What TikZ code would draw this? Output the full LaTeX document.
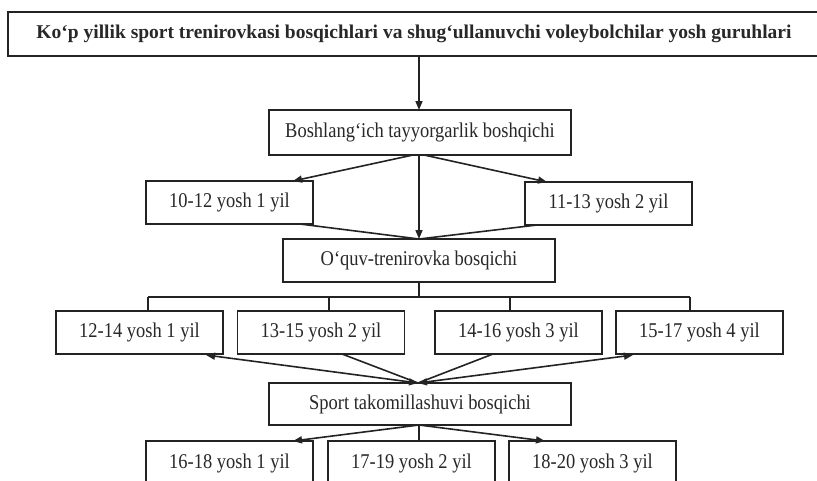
\documentclass[tikz,border=0pt]{standalone}
\usepackage{fontspec}
\setmainfont{Liberation Serif}[FakeStretch=0.88]
\newfontfamily\titlefont{Liberation Serif}[FakeStretch=1.0]
\usetikzlibrary{arrows.meta,calc}
\definecolor{ink}{RGB}{35,35,35}
\definecolor{txt}{RGB}{40,40,40}
\begin{document}
\begin{tikzpicture}[x=1pt,y=-1pt,
  box/.style={draw=ink,line width=1.7pt,inner sep=0pt,fill=white,text=txt,
    font=\fontsize{21}{24}\selectfont},
  sbox/.style={box,minimum width=167pt,minimum height=43pt},
  wbox/.style={box,minimum height=43pt},
  conn/.style={draw=ink,line width=1.6pt},
  arr/.style={conn,-{Triangle[length=9pt,width=7pt]}},
  darr/.style={conn,{Triangle[length=9pt,width=7pt]}-{Triangle[length=9pt,width=7pt]}}
]
\useasboundingbox (0,0) rectangle (817,480);
% nodes
\node[box,minimum width=812pt,minimum height=44pt,font=\titlefont\bfseries\fontsize{19.5}{22}\selectfont] (top) at (414,34)
  {Ko‘p yillik sport trenirovkasi bosqichlari va shug‘ullanuvchi voleybolchilar yosh guruhlari};
\node[wbox,minimum width=302pt,minimum height=45pt] (b0) at (420,132.5) {Boshlang‘ich tayyorgarlik boshqichi};
\node[sbox] (a1) at (229.5,202.5) {10-12 yosh 1 yil};
\node[sbox] (a2) at (608.5,203.5) {11-13 yosh 2 yil};
\node[wbox,minimum width=272pt] (o) at (419,260.5) {O‘quv-trenirovka bosqichi};
\node[sbox] (c1) at (139.5,332.5) {12-14 yosh 1 yil};
\node[sbox] (c2) at (321,332.5) {13-15 yosh 2 yil};
\node[sbox] (c3) at (518.5,332.5) {14-16 yosh 3 yil};
\node[sbox] (c4) at (699.5,332.5) {15-17 yosh 4 yil};
\node[wbox,minimum width=302pt,minimum height=42pt] (s) at (420,404) {Sport takomillashuvi bosqichi};
\node[sbox,minimum height=44pt] (d1) at (229.5,463) {16-18 yosh 1 yil};
\node[sbox,minimum height=44pt] (d2) at (411.5,463) {17-19 yosh 2 yil};
\node[sbox,minimum height=44pt] (d3) at (592.5,463) {18-20 yosh 3 yil};
% connectors
\coordinate (t0) at (419,56);
\coordinate (b0n) at (419,110);
\draw[arr] (t0) -- (b0n);
\coordinate (b0s) at (419,155);
\coordinate (b0l) at (413,155);
\coordinate (b0r) at (424,155);
\coordinate (a1t) at (293,181);
\coordinate (a2t) at (547,182);
\coordinate (on) at (419,239);
\draw[arr] (b0l) -- (a1t);
\draw[arr] (b0r) -- (a2t);
\coordinate (a1b) at (300,224);
\coordinate (a2b) at (537,225);
\draw[conn] (a1b) -- (on);
\draw[conn] (a2b) -- (on);
\draw[arr] (b0s) -- (on);
% bracket
\coordinate (os) at (419,282);
\coordinate (k0) at (419,297);
\coordinate (k1) at (148,297);
\coordinate (k2) at (329,297);
\coordinate (k3) at (510,297);
\coordinate (k4) at (690,297);
\draw[conn] (os) -- (k0);
\draw[conn] (k1) -- (k4);
\draw[conn] (k1) -- (k1 |- c1.north);
\draw[conn] (k2) -- (k2 |- c2.north);
\draw[conn] (k3) -- (k3 |- c3.north);
\draw[conn] (k4) -- (k4 |- c4.north);
% to sport
\coordinate (sn) at (418,383);
\coordinate (c1b) at (206,355);
\coordinate (c2b) at (342,354);
\coordinate (c3b) at (493,354);
\coordinate (c4b) at (633,355);
\draw[conn] (c2b) -- (sn);
\draw[conn] (c3b) -- (sn);
\draw[darr] (c1b) -- (sn);
\draw[darr] (c4b) -- (sn);
% from sport
\coordinate (ss) at (419,425);
\coordinate (d1t) at (293,441);
\coordinate (d3t) at (545,441);
\draw[arr] (ss) -- (d1t);
\draw[arr] (ss) -- (d3t);
\draw[conn] (ss) -- (ss |- d2.north);
\end{tikzpicture}
\end{document}
